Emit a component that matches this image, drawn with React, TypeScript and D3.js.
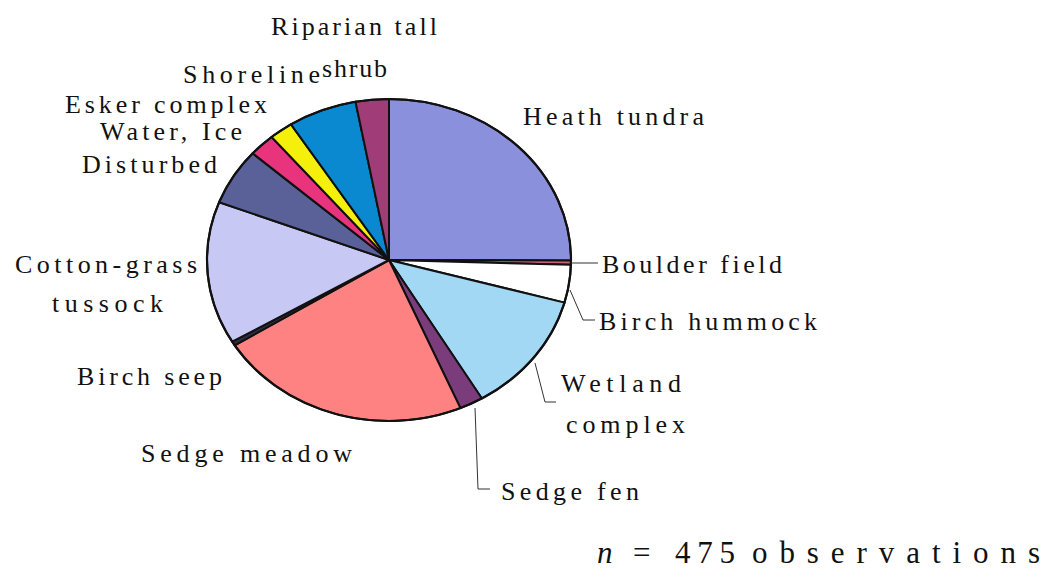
import React from "react";
import * as d3 from "d3";

// Vegetation classes, clockwise from 12 o'clock, with observation counts
const categories = [
  "Heath tundra",
  "Boulder field",
  "Birch hummock",
  "Wetland complex",
  "Sedge fen",
  "Sedge meadow",
  "Birch seep",
  "Cotton-grass tussock",
  "Disturbed",
  "Water, Ice",
  "Esker complex",
  "Shoreline",
  "Riparian tall shrub",
];
const counts = [119, 2, 18, 58, 10, 107, 2, 68, 27, 11, 10, 29, 14];
const colors = [
  "#8a90dc",
  "#c8607c",
  "#ffffff",
  "#a3d8f5",
  "#7a3c7a",
  "#ff8282",
  "#2e2e48",
  "#c8c8f5",
  "#5a6098",
  "#e8347c",
  "#f4f00c",
  "#0a88d0",
  "#a03c78",
];
const totalLabel = "475";

// Label lines: text, left x, baseline y, rendered width
const labelLines: [string, number, number, number][] = [
  ["Riparian tall", 271, 35, 166],
  ["shrub", 322, 77, 65],
  ["Shoreline", 183, 83, 137],
  ["Esker complex", 65, 113, 202],
  ["Water, Ice", 100, 140, 142],
  ["Disturbed", 82, 173, 135],
  ["Heath tundra", 523, 125, 181],
  ["Boulder field", 602, 273, 180],
  ["Birch hummock", 599, 330, 218],
  ["Wetland", 561, 392, 120],
  ["complex", 566, 433, 119],
  ["Sedge fen", 501, 500, 138],
  ["Sedge meadow", 141, 462, 211],
  ["Birch seep", 77, 385, 145],
  ["Cotton-grass", 15, 273, 182],
  ["tussock", 52, 312, 111],
];

// Leader lines from slice edges to their labels
const leaders: [number, number][][] = [
  [[571, 263], [598, 263]],
  [[570, 290], [583, 320], [595, 320]],
  [[535, 363], [545, 402], [556, 402]],
  [[475, 408], [478, 489], [490, 489]],
];

const cx = 389;
const cy = 260;
const rx = 182;
const ry = 161;

export default function App() {
  const pie = d3
    .pie<number>()
    .sort(null)
    .value((d) => d)
    .startAngle(0)
    .endAngle(2 * Math.PI);
  const arcs = pie(counts);
  const arc = d3.arc<d3.PieArcDatum<number>>().innerRadius(0).outerRadius(rx);
  const line = d3.line();
  const font = '"Liberation Serif", "DejaVu Serif", Tinos, Times, serif';

  return (
    <svg
      width={1043}
      height={574}
      style={{ position: "absolute", left: 0, top: 0, background: "#fff" }}
    >
      <g transform={`translate(${cx},${cy}) scale(1,${ry / rx})`}>
        {arcs.map((a, i) => (
          <path
            key={categories[i]}
            d={arc(a) ?? ""}
            fill={colors[i]}
            stroke="#111"
            strokeWidth={2}
            strokeLinejoin="round"
            vectorEffect="non-scaling-stroke"
          />
        ))}
        <ellipse
          cx={0}
          cy={0}
          rx={rx}
          ry={rx}
          fill="none"
          stroke="#111"
          strokeWidth={2.2}
          vectorEffect="non-scaling-stroke"
        />
      </g>
      {leaders.map((pts, i) => (
        <path key={i} d={line(pts) ?? ""} fill="none" stroke="#333" strokeWidth={1} />
      ))}
      <g style={{ fontFamily: font }} fontSize={26} fill="#111">
        {labelLines.map(([t, x, y, w]) => (
          <text key={t + y} x={x} y={y} textLength={w} lengthAdjust="spacing">
            {t}
          </text>
        ))}
      </g>
      <g style={{ fontFamily: font }} fontSize={31} fill="#111">
        <text x={597} y={563} fontStyle="italic">n</text>
        <text x={633} y={563}>=</text>
        <text x={675} y={563} textLength={60} lengthAdjust="spacing">{totalLabel}</text>
        <text x={752} y={563} textLength={288} lengthAdjust="spacing">observations</text>
      </g>
    </svg>
  );
}
